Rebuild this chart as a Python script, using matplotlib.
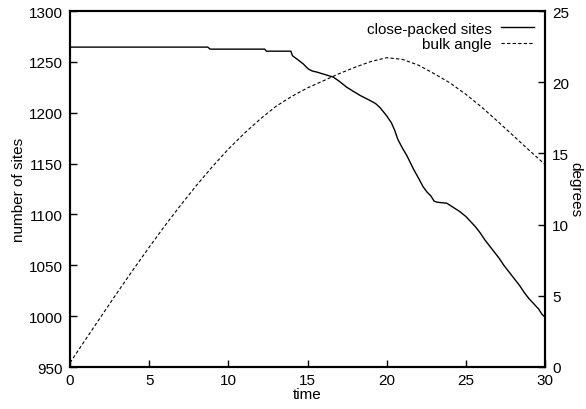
import matplotlib
matplotlib.use("Agg")
import matplotlib.pyplot as plt

plt.rcParams['font.family'] = ['Liberation Sans', 'DejaVu Sans']
plt.rcParams['font.size'] = 11

# close-packed sites (left axis)
t_sites = [0, 8.7, 8.85, 12.3, 12.4, 13.95, 14.05, 14.4, 14.73, 15.05, 15.3, 15.58,
           16.21, 16.63, 17.0, 17.48, 17.9, 18.32, 18.95, 19.3, 19.58, 20.0, 20.3,
           20.5, 20.7, 21.0, 21.27, 21.68, 22.0, 22.31, 22.55, 22.8, 23.0, 23.2,
           23.8, 24.2, 24.6, 25.0, 25.3, 25.6, 25.9, 26.2, 26.5, 26.8, 27.1, 27.4,
           27.8, 28.1, 28.4, 28.7, 29.0, 29.3, 29.6, 29.8, 30.0]
sites = [1264.5, 1264.5, 1262.5, 1262.5, 1260.5, 1260.5, 1256, 1252, 1248, 1243, 1241,
         1240, 1237, 1235, 1231, 1225, 1221, 1217, 1212, 1209, 1205, 1197, 1190,
         1183, 1174, 1165, 1158, 1145, 1136, 1127, 1122, 1118, 1113, 1112,
         1111, 1107, 1103, 1098, 1093, 1088, 1082, 1075, 1069, 1063, 1057, 1050,
         1042, 1036, 1030, 1023, 1017, 1012, 1007, 1002, 999]

# bulk angle (right axis)
t_angle = list(range(0, 31))
angle = [0.3, 1.96, 3.61, 5.25, 6.85, 8.41, 9.93, 11.38, 12.77, 14.08, 15.3, 16.4,
         17.4, 18.3, 19.0, 19.6, 20.1, 20.6, 21.05, 21.45, 21.72, 21.6, 21.2, 20.6,
         19.95, 19.15, 18.25, 17.26, 16.24, 15.22, 14.22]

fig = plt.figure(figsize=(5.86, 4.10), dpi=100)
ax = fig.add_axes([70/586, 1-368/410, 475/586, 356/410])
ax2 = ax.twinx()

l1, = ax.plot(t_sites, sites, color='black', lw=1.0, label='close-packed sites')
l2, = ax2.plot(t_angle, angle, color='black', lw=0.8, linestyle=(0, (3, 2)),
               label='bulk angle')

ax.set_xlim(0, 30)
ax.set_ylim(950, 1300)
ax2.set_ylim(0, 25)
ax.set_xticks([0, 5, 10, 15, 20, 25, 30])
ax.set_yticks([950, 1000, 1050, 1100, 1150, 1200, 1250, 1300])
ax2.set_yticks([0, 5, 10, 15, 20, 25])

ax.tick_params(direction='in', length=5, width=1, top=False, right=False, pad=4)
ax.tick_params(axis='y', pad=5)
ax2.tick_params(direction='in', length=5, width=1, pad=5)

for a in (ax, ax2):
    for s in a.spines.values():
        s.set_linewidth(1.5)

ax.set_xlabel('time', labelpad=0)
ax.set_ylabel('number of sites', labelpad=2)
ax2.set_ylabel('degrees', rotation=270, labelpad=10)

leg = ax2.legend([l1, l2], ['close-packed sites', 'bulk angle'], loc='upper right',
                 frameon=False, markerfirst=False, handlelength=2.2,
                 borderaxespad=0.3, labelspacing=0.1, handletextpad=0.6)
for txt in leg.get_texts():
    txt.set_ha('right')

fig.savefig('out.png', dpi=100)
